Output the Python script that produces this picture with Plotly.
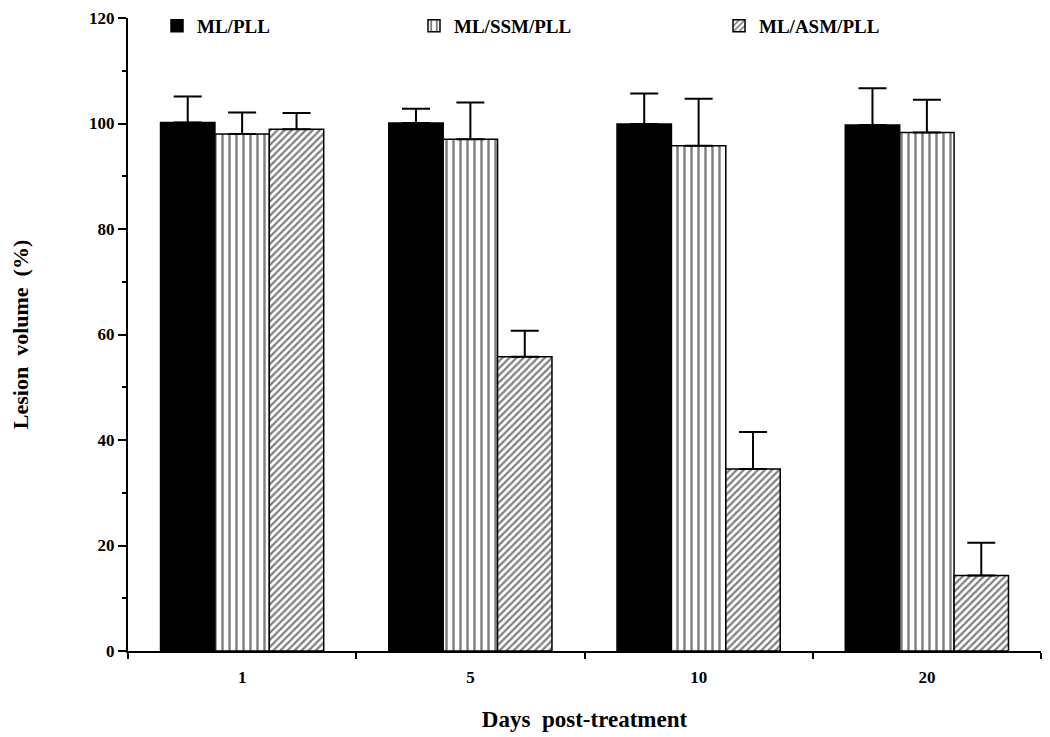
import plotly.graph_objects as go

days = ["1", "5", "10", "20"]
series_names = ["ML/PLL", "ML/SSM/PLL", "ML/ASM/PLL"]
ml_pll = [100.2, 100.1, 99.9, 99.7]
ml_pll_err = [4.9, 2.7, 5.8, 7.0]
ml_ssm_pll = [98.0, 97.0, 95.8, 98.3]
ml_ssm_pll_err = [4.1, 7.0, 8.9, 6.2]
ml_asm_pll = [98.9, 55.8, 34.5, 14.3]
ml_asm_pll_err = [3.1, 4.9, 7.0, 6.2]

FONT = "Liberation Serif"

def f(size):
    return dict(family=FONT, size=size, color="black", weight="bold")

fig = go.Figure()

def add(name, vals, errs, pattern, legend):
    if pattern is None:
        marker = dict(color="black", line=dict(color="black", width=1.5))
    else:
        marker = dict(color="white", line=dict(color="black", width=1.5),
                      pattern=dict(shape=pattern[0], size=pattern[1], solidity=pattern[2],
                                   fgcolor="black", bgcolor="white", fillmode="overlay"))
    fig.add_trace(go.Bar(
        x=days, y=vals, name=name, marker=marker, legend=legend, showlegend=True,
        error_y=dict(type="data", array=errs, arrayminus=[0] * len(errs), symmetric=False,
                     color="black", thickness=2, width=14),
    ))

add(series_names[0], ml_pll, ml_pll_err, None, "legend")
add(series_names[1], ml_ssm_pll, ml_ssm_pll_err, ("|", 7, 0.35), "legend2")
add(series_names[2], ml_asm_pll, ml_asm_pll_err, ("/", 5, 0.45), "legend3")

OFF = 8  # page body margin
W, H = 1042, 729
ml, mr, mt, mb = 120, 9, 10, 86
pw = W - ml - mr
ph = H - mt - mb

def px2paper(x):
    return (x - OFF - ml) / pw

legend_common = dict(orientation="h", yanchor="middle", y=1 - (26 - OFF - mt) / ph,
                     xanchor="left", bgcolor="rgba(0,0,0,0)", font=f(19))

fig.update_layout(
    width=W, height=H,
    margin=dict(l=ml, r=mr, t=mt, b=mb, autoexpand=False),
    plot_bgcolor="white", paper_bgcolor="white",
    showlegend=True,
    barmode="group", bargap=0.285, bargroupgap=0,
    font=f(17),
    legend=dict(x=px2paper(157), **legend_common),
    legend2=dict(x=px2paper(414), **legend_common),
    legend3=dict(x=px2paper(719), **legend_common),
    xaxis=dict(
        type="category", showline=True, linecolor="black", linewidth=2,
        ticks="outside", tickson="boundaries", ticklen=6, tickwidth=2, tickcolor="black",
        showgrid=False, zeroline=False, ticklabelstandoff=10,
        tickfont=f(17),
        title=dict(text="Days  post-treatment", standoff=24, font=f(23)),
        automargin=False,
    ),
    yaxis=dict(
        range=[0, 120], showline=True, linecolor="black", linewidth=2,
        ticks="outside", tickmode="linear", tick0=0, dtick=20, ticklen=8, tickwidth=2,
        tickcolor="black", showgrid=False, zeroline=False, ticklabeloverflow="allow",
        minor=dict(ticks="outside", dtick=10, tick0=0, ticklen=4, tickwidth=1.5, tickcolor="black"),
        tickfont=f(17),
        title=dict(text="Lesion  volume  (%)", standoff=60, font=f(22)),
        automargin=False,
    ),
)

fig.write_html("out.html")
